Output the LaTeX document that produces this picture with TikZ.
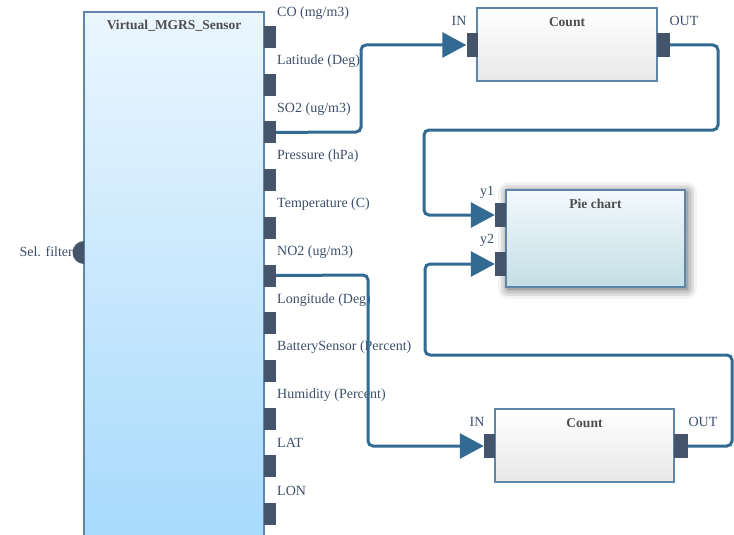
\documentclass[tikz,border=0pt]{standalone}
\usepackage{fontspec}
\setmainfont{Liberation Serif}
\usetikzlibrary{shadows.blur,arrows.meta}
\definecolor{wirec}{HTML}{336A92}
\definecolor{portc}{HTML}{44546A}
\definecolor{lblc}{HTML}{3B4F6B}
\definecolor{ttlc}{HTML}{4D4D4D}
\definecolor{bordc}{HTML}{5F86A8}
\definecolor{senstop}{HTML}{EBF6FE}
\definecolor{sensbot}{HTML}{A6DAFC}
\tikzset{
  lbl/.style={text=lblc, font=\fontsize{14}{16}\selectfont, inner sep=0pt},
  ttl/.style={text=ttlc, font=\bfseries\fontsize{13.5}{16}\selectfont, inner sep=0pt},
  portbox/.style={fill=portc, draw=none, inner sep=0pt, minimum width=12, minimum height=22},
  inport/.style={fill=portc, draw=none, inner sep=0pt, minimum width=11, minimum height=24},
  blk/.style={draw=bordc, line width=1.2pt, inner sep=0pt},
  wire/.style={draw=wirec, line width=3pt, rounded corners=5pt},
  arr/.style={wire, -{Triangle[length=24pt,width=25pt]}},
}
\begin{document}
\begin{tikzpicture}[x=1pt,y=-1pt]
\useasboundingbox (0,0) rectangle (734,535);
\clip (0,0) rectangle (734,535);
% sensor block
\node[blk, top color=senstop, bottom color=sensbot, minimum width=180, minimum height=533] (sensor) at (174,278.5) {};
\node[ttl] (sensortitle) at (174,26) {Virtual\_MGRS\_Sensor};
\fill[portc] (84,264) arc[start angle=90, end angle=270, radius=11.5] -- cycle;
\coordinate (selport) at (78,275.5);
\node[lbl, anchor=east] (sellbl) at (73,252) {Sel. filter};
% ports and labels
\foreach \i/\t in {0/{CO (mg/m3)},1/{Latitude (Deg)},2/{SO2 (ug/m3)},3/{Pressure (hPa)},4/{Temperature (C)},5/{NO2 (ug/m3)},6/{Longitude (Deg)},7/{BatterySensor (Percent)},8/{Humidity (Percent)},9/{LAT},10/{LON}}{
  \pgfmathsetmacro{\pc}{37+47.7*\i}
  \node[portbox] (p\i) at (270,\pc) {};
  \node[lbl, anchor=west] (l\i) at (277,\pc-23.5) {\t};
}
% count 1
\node[blk, top color=white, bottom color=black!9, minimum width=180, minimum height=73] (count1) at (567,44.5) {};
\node[ttl] (count1t) at (567,22) {Count};
\node[inport] (cin1) at (472,45) {};
\node[inport, minimum width=13] (cout1) at (663.5,45) {};
\node[lbl] (in1) at (459,21) {IN};
\node[lbl] (out1) at (684,21) {OUT};
% pie chart
\node[blk, top color={rgb,255:red,242;green,249;blue,252}, bottom color={rgb,255:red,196;green,222;blue,230},
      blur shadow={shadow xshift=2pt, shadow yshift=-2pt, shadow blur radius=10pt, shadow opacity=70},
      minimum width=179, minimum height=97] (pie) at (595.5,238.5) {};
\node[ttl] (piet) at (595.5,204) {Pie chart};
\node[inport] (y1) at (500.5,215) {};
\node[inport] (y2) at (500.5,264) {};
\node[lbl] (y1l) at (487,192) {y1};
\node[lbl] (y2l) at (487,240) {y2};
% count 2
\node[blk, top color=white, bottom color=black!9, minimum width=179, minimum height=73] (count2) at (584.5,445.5) {};
\node[ttl] (count2t) at (584.5,423) {Count};
\node[inport] (cin2) at (489.5,446) {};
\node[inport, minimum width=14] (cout2) at (681,446) {};
\node[lbl] (in2) at (477,422) {IN};
\node[lbl] (out2) at (703,422) {OUT};
% wires
\draw[arr] (p2.east) -- (361,132) -- (361,45) -- (cin1.west);
\draw[arr] (cout1.east) -- (718,45) -- (718,130) -- (424,130) -- (424,215) -- (y1.west);
\draw[arr] (cout2.east) -- (732,446) -- (732,355) -- (425,355) -- (425,264) -- (y2.west);
\draw[arr] (p5.east) -- (368,275) -- (368,446) -- (cin2.west);
\end{tikzpicture}
\end{document}
